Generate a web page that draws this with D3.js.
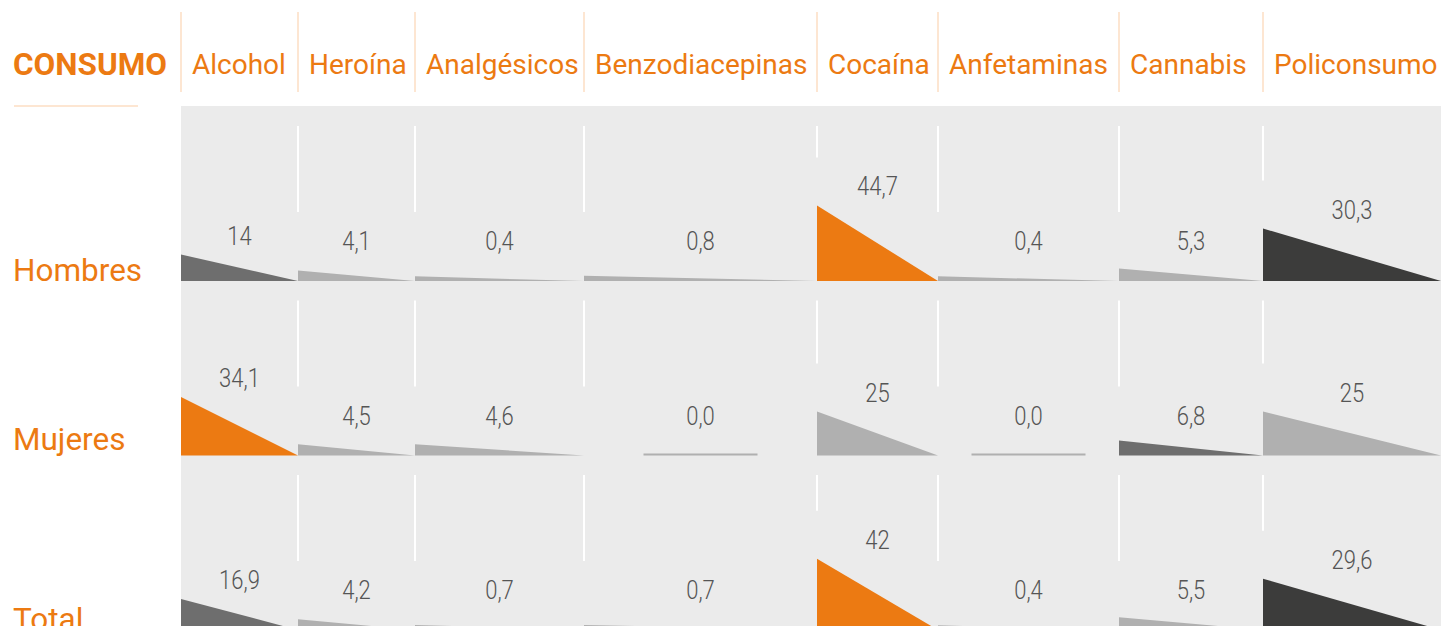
<!DOCTYPE html>
<html>
<head>
<meta charset="utf-8">
<script src="https://cdn.jsdelivr.net/npm/d3@7"></script>
<style>
  body { margin: 0; background: #fff; overflow: hidden; }
  svg { display: block; font-family: Roboto, "Noto Sans", sans-serif; }
</style>
</head>
<body>
<svg id="chart" width="1441" height="626"></svg>
<script>
var sustancias = ["Alcohol", "Heroína", "Analgésicos", "Benzodiacepinas", "Cocaína", "Anfetaminas", "Cannabis", "Policonsumo"];
var grupos = ["Hombres", "Mujeres", "Total"];

var hombres = [14, 4.1, 0.4, 0.8, 44.7, 0.4, 5.3, 30.3];
var mujeres = [34.1, 4.5, 4.6, 0.0, 25, 0.0, 6.8, 25];
var total   = [16.9, 4.2, 0.7, 0.7, 42, 0.4, 5.5, 29.6];

// tono de cada triangulo: 0 destacado, 1 oscuro, 2 medio, 3 claro
var tonoHombres = [2, 3, 3, 3, 0, 3, 3, 1];
var tonoMujeres = [0, 3, 3, 3, 3, 3, 2, 3];
var tonoTotal   = [2, 3, 3, 3, 0, 3, 3, 1];

var valores = [hombres, mujeres, total];
var tonos = [tonoHombres, tonoMujeres, tonoTotal];

var width = 1441, height = 626;
var naranja = "#ec7a12";
var svg = d3.select("#chart");

var color = d3.scaleOrdinal()
    .domain([0, 1, 2, 3])
    .range([naranja, "#3c3c3b", "#6e6e6e", "#b0b0b0"]);

var es = d3.formatLocale({decimal: ",", thousands: ".", grouping: [3], currency: ["", " €"]});
function etiqueta(v) {
    if (v !== 0 && Number.isInteger(v)) return String(v);
    return es.format(".1f")(v);
}

// altura del triangulo
var h = d3.scaleLinear().domain([0, 45]).range([4, 76]);

// base de cada fila
var y = d3.scalePoint().domain(grupos).range([281, 630]);

// bordes de las columnas (maquetacion)
var bordes = [181, 298, 415, 584, 817, 938, 1119, 1263, width];
var pad = 11;

// fondo gris
svg.append("rect")
    .attr("x", bordes[0]).attr("y", 106)
    .attr("width", width - bordes[0]).attr("height", height - 106)
    .attr("fill", "#ebebeb");

// cabecera
var header = svg.append("g");
header.append("text")
    .attr("x", 13).attr("y", 75)
    .attr("font-size", 31.5).attr("font-weight", 700)
    .attr("fill", naranja)
    .text("CONSUMO");

header.append("line")
    .attr("x1", 14).attr("x2", 138)
    .attr("y1", 106).attr("y2", 106)
    .attr("stroke", "#fde6d2").attr("stroke-width", 2);

header.selectAll("text.col")
    .data(sustancias)
    .enter()
        .append("text")
        .classed("col", true)
        .attr("x", function(d, i) { return bordes[i] + pad; })
        .attr("y", 74)
        .attr("font-size", 28)
        .attr("fill", naranja)
        .text(function(d) { return d; });

header.selectAll("line.sep")
    .data(sustancias)
    .enter()
        .append("line")
        .classed("sep", true)
        .attr("x1", function(d, i) { return bordes[i]; })
        .attr("x2", function(d, i) { return bordes[i]; })
        .attr("y1", 12).attr("y2", 92)
        .attr("stroke", "#fde6d2").attr("stroke-width", 2);

var line = d3.line();

grupos.forEach(function(g, gi) {
    var base = y(g);
    var fila = svg.append("g");

    fila.append("text")
        .attr("x", 13).attr("y", base - (gi == 1 ? 6 : 0))
        .attr("font-size", 31.5)
        .attr("fill", naranja)
        .text(g);

    var celdas = sustancias.map(function(s, i) {
        var v = valores[gi][i];
        var top = base - h(v);
        var ly = Math.min(base - 31, top - 10);
        return {sustancia: s, valor: v, tono: tonos[gi][i],
                x0: bordes[i], x1: bordes[i + 1], top: top, ly: ly};
    });

    // separadores blancos
    fila.selectAll("line")
        .data(celdas.slice(1))
        .enter()
            .append("line")
            .attr("x1", function(d) { return d.x0; })
            .attr("x2", function(d) { return d.x0; })
            .attr("y1", base - 155)
            .attr("y2", function(d) { return Math.min(base - 68, d.ly - 38); })
            .attr("stroke", "#fff").attr("stroke-width", 2);

    fila.selectAll("path")
        .data(celdas.filter(function(d) { return d.valor > 0; }))
        .enter()
            .append("path")
            .attr("d", function(d) {
                return line([[d.x0, base], [d.x0, d.top], [d.x1, base]]) + "Z";
            })
            .attr("fill", function(d) { return color(d.tono); });

    // valor cero: raya centrada
    fila.selectAll("rect")
        .data(celdas.filter(function(d) { return d.valor === 0; }))
        .enter()
            .append("rect")
            .attr("x", function(d) { return (d.x0 + d.x1) / 2 - 57; })
            .attr("y", base - 2)
            .attr("width", 114).attr("height", 2)
            .attr("fill", color(3));

    fila.selectAll("text.valor")
        .data(celdas)
        .enter()
            .append("text")
            .classed("valor", true)
            .attr("transform", function(d) {
                return "translate(" + ((d.x0 + d.x1) / 2) + "," + d.ly + ") scale(0.88,1)";
            })
            .attr("text-anchor", "middle")
            .attr("font-size", 25).attr("font-weight", 300)
            .attr("fill", "#555")
            .text(function(d) { return etiqueta(d.valor); });
});
</script>
</body>
</html>
